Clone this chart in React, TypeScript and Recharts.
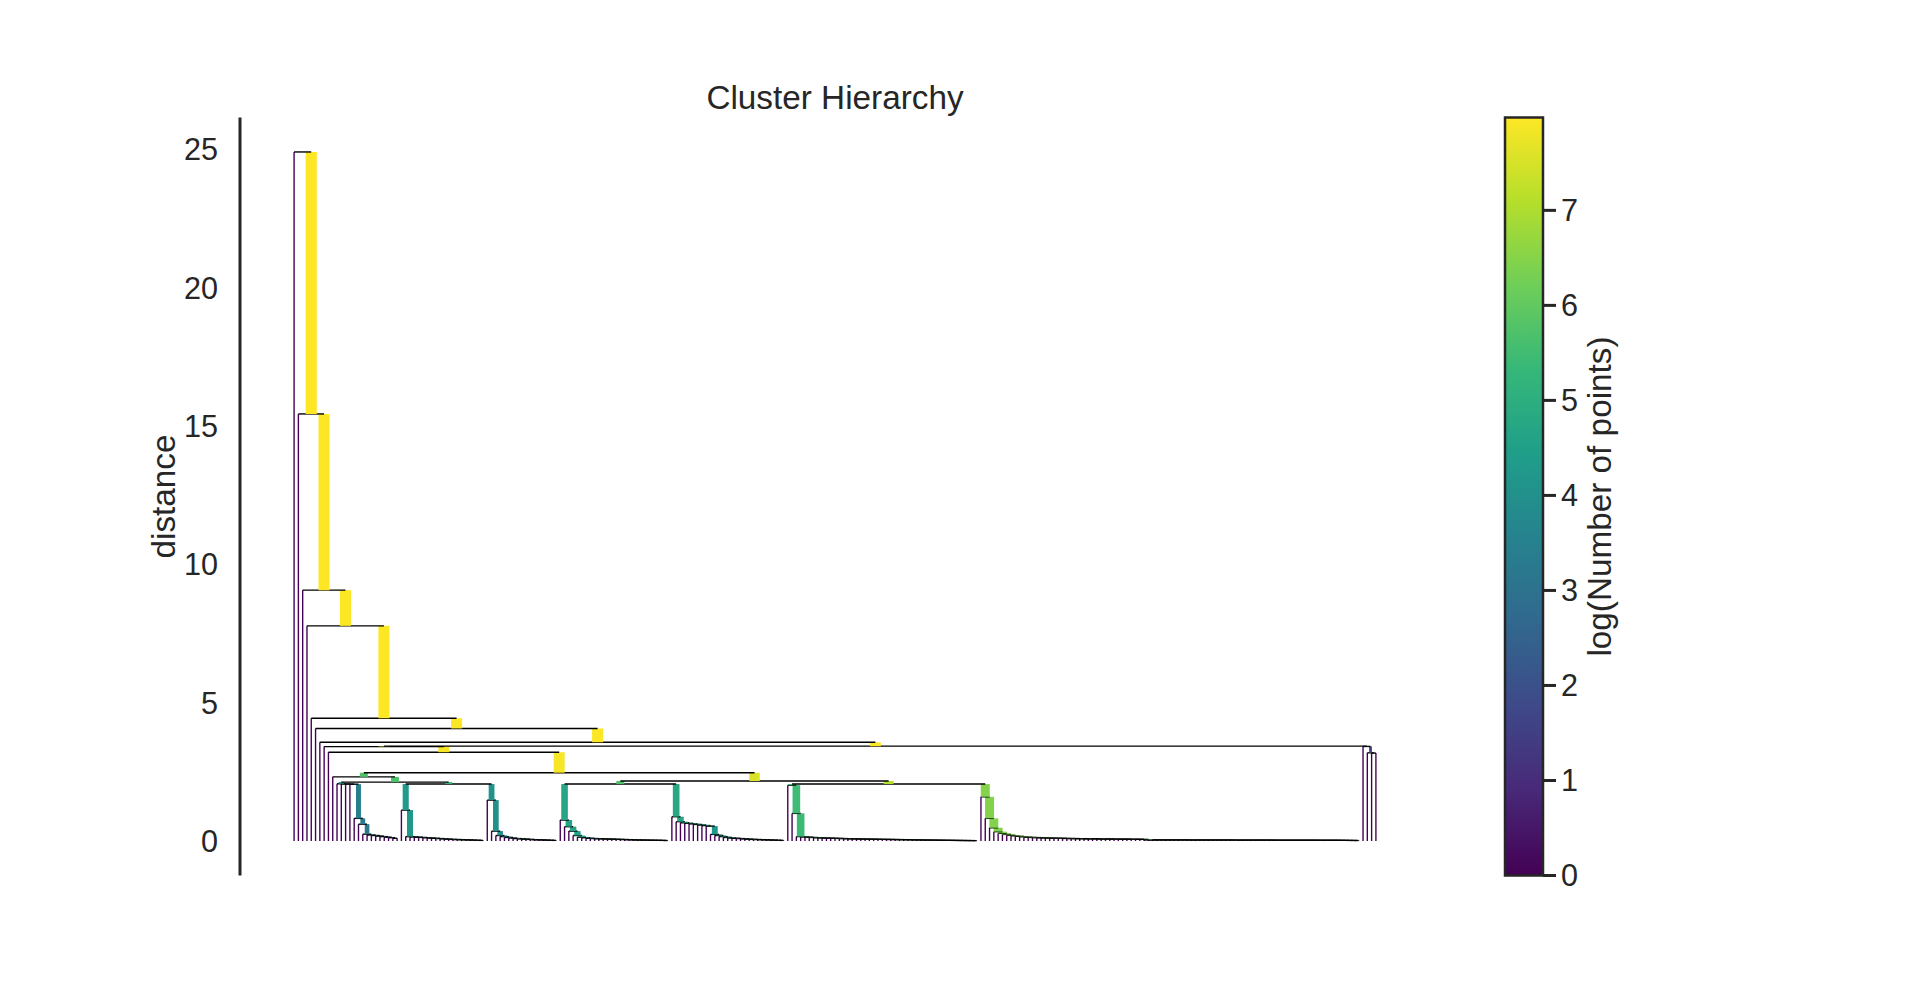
import React from 'react';
import { ComposedChart, XAxis, YAxis, ReferenceLine, ReferenceArea } from 'recharts';

const FONT = '"Liberation Sans", Arial, Helvetica, sans-serif';
const INK = '#262626';

const titleText = 'Cluster Hierarchy';
const yLabelText = 'distance';
const colorbarLabelText = 'log(Number of points)';
const distanceTicks = [0, 5, 10, 15, 20, 25];
const colorbarTicks = [0, 1, 2, 3, 4, 5, 6, 7];
const viridisStops = ['#440154', '#482878', '#3e4989', '#31688e', '#26828e', '#1f9e89', '#35b779', '#6ece58', '#b5de2b', '#fde725'];

// merge heights (distance)
const spineHeights = [24.91, 15.44, 9.07, 7.78, 4.44, 4.07, 3.57]; // single points leaving the main cluster
const mainSplitHeight = 3.43; // main cluster vs small group on the far right
const innerSpineHeights = [3.415, 3.21];
const outlierHeights = [3.42, 3.19, 3.18];
const coreSplitHeight = 2.47;
const leftGroupHeights = [2.32, 2.13, 2.06];
const rightGroupHeights = [2.17, 2.06, 2.06];

const clusterC = [2.07, 2.065, 2.06, 2.055, 0.82, 0.61, 0.25, 0.22, 0.2, 0.18, 0.16, 0.14, 0.12, 0.1];
const clusterD1 = [1.12, 0.16, 0.15, 0.14, 0.13, 0.12, 0.11, 0.1, 0.09, 0.08, 0.07, 0.06, 0.055, 0.05, 0.045, 0.04, 0.035, 0.03, 0.025];
const clusterD2 = [1.48, 0.36, 0.2, 0.16, 0.13, 0.11, 0.09, 0.08, 0.07, 0.06, 0.05, 0.045, 0.04, 0.035, 0.03, 0.025];
const clusterE = [0.76, 0.52, 0.36, 0.2, 0.14, 0.12, 0.1, 0.09, 0.085, 0.08, 0.075, 0.07, 0.065, 0.06, 0.055, 0.05, 0.045, 0.04, 0.038, 0.035, 0.032, 0.03, 0.028, 0.025, 0.02];
const clusterF = [0.88, 0.7, 0.66, 0.64, 0.62, 0.6, 0.58, 0.56, 0.54, 0.24, 0.2, 0.16, 0.13, 0.11, 0.1, 0.09, 0.08, 0.07, 0.06, 0.055, 0.05, 0.045, 0.04, 0.035, 0.03, 0.025];
const clusterG = [2.02, 1.0, 0.16, 0.15, 0.14, 0.13, 0.12, 0.115, 0.11, 0.105, 0.1, 0.095, 0.09, 0.085, 0.08, 0.078, 0.075, 0.072, 0.07, 0.068, 0.065, 0.062, 0.06, 0.058, 0.055, 0.052, 0.05, 0.048, 0.045, 0.042, 0.04, 0.038, 0.036, 0.034, 0.032, 0.03, 0.028, 0.026, 0.024, 0.022, 0.02, 0.018, 0.016, 0.014];
const clusterH = [1.6, 0.82, 0.48, 0.34, 0.28, 0.24, 0.21, 0.19, 0.17, 0.155, 0.14, 0.13, 0.125, 0.12, 0.115, 0.11, 0.105, 0.1, 0.1, 0.095, 0.09, 0.09, 0.085, 0.085, 0.08, 0.08, 0.08, 0.075, 0.075, 0.075, 0.07, 0.07, 0.07, 0.07, 0.065, 0.065, 0.065, 0.06,
  0.04, 0.04, 0.04, 0.04, 0.04, 0.04, 0.04, 0.04, 0.04, 0.04,
  0.038, 0.038, 0.038, 0.038, 0.038, 0.038, 0.038, 0.038, 0.038, 0.038,
  0.035, 0.035, 0.035, 0.035, 0.035, 0.035, 0.035, 0.035, 0.035, 0.035,
  0.032, 0.032, 0.032, 0.032, 0.032, 0.032, 0.032, 0.032, 0.032, 0.032,
  0.03, 0.03, 0.03, 0.03, 0.03, 0.028, 0.026, 0.024, 0.022, 0.02];

type Tree = null | { h: number; l: Tree; r: Tree };
const node = (h: number, l: Tree, r: Tree): Tree => ({ h, l, r });
const chain = (hs: number[]): Tree => {
  let t: Tree = node(hs[hs.length - 1], null, null);
  for (let k = hs.length - 2; k >= 0; k--) t = node(hs[k], null, t);
  return t;
};
const peel = (hs: number[], inner: Tree): Tree => {
  let t = inner;
  for (let k = hs.length - 1; k >= 0; k--) t = node(hs[k], null, t);
  return t;
};

const groupD = node(leftGroupHeights[2], chain(clusterD1), chain(clusterD2));
const groupB = node(leftGroupHeights[1], chain(clusterC), groupD);
const groupA = node(leftGroupHeights[0], null, groupB);
const groupRight = node(
  rightGroupHeights[0],
  node(rightGroupHeights[1], chain(clusterE), chain(clusterF)),
  node(rightGroupHeights[2], chain(clusterG), chain(clusterH))
);
const core = node(coreSplitHeight, groupA, groupRight);
const innerTree = peel(innerSpineHeights, core);
const mainTree = node(mainSplitHeight, innerTree, chain(outlierHeights));
const rootTree = peel(spineHeights, mainTree);

type Link = { xl: number; xr: number; h: number; hl: number; hr: number; nl: number; nr: number };
const links: Link[] = [];
let leafCount = 0;
function layout(t: Tree): { x: number; h: number; n: number } {
  if (!t) {
    const x = 5 + 10 * leafCount;
    leafCount += 1;
    return { x, h: 0, n: 1 };
  }
  const a = layout(t.l);
  const b = layout(t.r);
  links.push({ xl: a.x, xr: b.x, h: t.h, hl: a.h, hr: b.h, nl: a.n, nr: b.n });
  return { x: (a.x + b.x) / 2, h: t.h, n: a.n + b.n };
}
layout(rootTree);
links.sort((p, q) => p.h - q.h);

const span = 10 * (leafCount - 1);
const xMin = 5 - 0.05 * span;
const xMax = 5 + span + 0.05 * span;
const maxH = Math.max(...links.map((l) => l.h));
const yMin = -0.05 * maxH;
const yMax = maxH * 1.05;
const maxN = Math.max(...links.map((l) => Math.max(l.nl, l.nr)));
const vmax = Math.log2(maxN);

function hexToRgb(h: string) {
  return [parseInt(h.slice(1, 3), 16), parseInt(h.slice(3, 5), 16), parseInt(h.slice(5, 7), 16)];
}
function viridis(t: number) {
  const c = Math.max(0, Math.min(1, t)) * (viridisStops.length - 1);
  const i = Math.min(viridisStops.length - 2, Math.floor(c));
  const f = c - i;
  const a = hexToRgb(viridisStops[i]);
  const b = hexToRgb(viridisStops[i + 1]);
  const m = a.map((v, k) => Math.round(v + (b[k] - v) * f));
  return `rgb(${m[0]},${m[1]},${m[2]})`;
}
const legColor = (n: number) => viridis(Math.log2(n) / vmax);
const legWidth = (n: number) => (Math.log2(1 + n) * 100) / 72;

const frame = [{ x: xMin, y: 0 }, { x: xMax, y: 0 }];

export default function App() {
  const elems: React.ReactNode[] = [];
  links.forEach((l, i) => {
    elems.push(
      <ReferenceLine key={`l${i}`} segment={[{ x: l.xl, y: l.hl }, { x: l.xl, y: l.h }]} stroke={legColor(l.nl)} strokeWidth={legWidth(l.nl)} ifOverflow="visible" />
    );
    elems.push(
      <ReferenceLine key={`r${i}`} segment={[{ x: l.xr, y: l.hr }, { x: l.xr, y: l.h }]} stroke={legColor(l.nr)} strokeWidth={legWidth(l.nr)} ifOverflow="visible" />
    );
    elems.push(
      <ReferenceLine key={`h${i}`} segment={[{ x: l.xl, y: l.h }, { x: l.xr, y: l.h }]} stroke="#000000" strokeWidth={1.39} ifOverflow="visible" />
    );
  });

  return (
    <div style={{ position: 'absolute', left: 0, top: 0, width: 1920, height: 983, background: '#ffffff', fontFamily: FONT }}>
      <svg width={0} height={0} style={{ position: 'absolute' }}>
        <defs>
          <linearGradient id="viridisGradient" x1="0" y1="1" x2="0" y2="0">
            {viridisStops.map((c, i) => (
              <stop key={i} offset={i / (viridisStops.length - 1)} stopColor={c} />
            ))}
          </linearGradient>
        </defs>
      </svg>
      <div style={{ position: 'absolute', left: 0, top: 0 }}>
        <ComposedChart width={1920} height={983} data={frame} margin={{ top: 117.5, right: 490, bottom: 107.5, left: 180 }}>
          <XAxis type="number" dataKey="x" domain={[xMin, xMax]} allowDataOverflow hide />
          <YAxis
            type="number"
            domain={[yMin, yMax]}
            allowDataOverflow
            ticks={distanceTicks}
            width={60}
            axisLine={{ stroke: INK, strokeWidth: 3 }}
            tickLine={false}
            tickSize={0}
            tickMargin={22}
            tick={{ fill: INK, fontSize: 30.6, fontFamily: FONT }}
          />
          {elems}
        </ComposedChart>
      </div>
      <div style={{ position: 'absolute', left: 1400, top: 0 }}>
        <ComposedChart width={300} height={983} data={[{ x: 0 }, { x: 1 }]} margin={{ top: 117.5, right: 77, bottom: 107.5, left: 105 }}>
          <XAxis type="number" dataKey="x" domain={[0, 1]} allowDataOverflow hide />
          <YAxis
            type="number"
            orientation="right"
            domain={[0, vmax]}
            allowDataOverflow
            ticks={colorbarTicks}
            width={80}
            axisLine={false}
            tickLine={{ stroke: INK, strokeWidth: 3 }}
            tickSize={13}
            tickMargin={5}
            tick={{ fill: INK, fontSize: 30.6, fontFamily: FONT }}
          />
          <ReferenceArea x1={0} x2={1} y1={0} y2={vmax} fill="url(#viridisGradient)" fillOpacity={1} stroke={INK} strokeWidth={2.5} ifOverflow="visible" />
        </ComposedChart>
      </div>
      <svg width={1920} height={983} style={{ position: 'absolute', left: 0, top: 0, pointerEvents: 'none' }}>
        <text x={835} y={109} textAnchor="middle" fontSize={33.3} fill={INK} fontFamily={FONT}>{titleText}</text>
        <text x={175} y={496.5} transform="rotate(-90 175 496.5)" textAnchor="middle" fontSize={33.3} fill={INK} fontFamily={FONT}>{yLabelText}</text>
        <text x={1611} y={496.5} transform="rotate(-90 1611 496.5)" textAnchor="middle" fontSize={33.3} fill={INK} fontFamily={FONT}>{colorbarLabelText}</text>
      </svg>
    </div>
  );
}
